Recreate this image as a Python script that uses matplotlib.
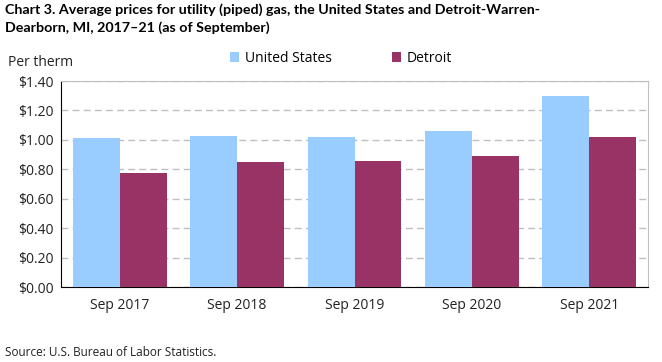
import matplotlib.pyplot as plt
import numpy as np
from matplotlib.ticker import FuncFormatter

plt.rcParams['font.family'] = ['Open Sans', 'DejaVu Sans']

# data
periods = ['Sep 2017', 'Sep 2018', 'Sep 2019', 'Sep 2020', 'Sep 2021']
us_prices = [1.011, 1.027, 1.020, 1.061, 1.299]
detroit_prices = [0.773, 0.850, 0.857, 0.891, 1.020]

US_COLOR = '#99ccff'
DET_COLOR = '#993366'

fig = plt.figure(figsize=(6.62, 3.62), dpi=100)
ax = fig.add_axes([61 / 662, 1 - 287 / 362, 587 / 662, 206 / 362])

x = np.arange(len(periods))
w = 0.4
ax.bar(x - w / 2, us_prices, w, color=US_COLOR, label='United States', zorder=3)
ax.bar(x + w / 2, detroit_prices, w, color=DET_COLOR, label='Detroit', zorder=3)

ax.set_xlim(-0.5, len(periods) - 0.5)
ax.set_ylim(0, 1.4)
ax.set_yticks(np.arange(0, 1.41, 0.2))
ax.yaxis.set_major_formatter(FuncFormatter(lambda v, p: f'${v:.2f}'))
ax.set_xticks(x, periods)
ax.tick_params(axis='both', labelsize=10, colors='#222222', length=0)
ax.tick_params(axis='x', pad=8)
ax.tick_params(axis='y', pad=5)
ax.yaxis.grid(True, color='#bfbfbf', linestyle=(0, (5, 3)), linewidth=1, zorder=0)

for s in ['top', 'right']:
    ax.spines[s].set_color('#bfbfbf')
for s in ['left', 'bottom']:
    ax.spines[s].set_color('black')

fig.text(5 / 662, 1 - 3 / 362,
         'Chart 3. Average prices for utility (piped) gas, the United States and Detroit-Warren-\n'
         'Dearborn, MI, 2017\u201321 (as of September)',
         fontsize=10.3, fontweight='bold', va='top', ha='left', linespacing=1.5,
         family=['Lato', 'DejaVu Sans'])
fig.text(8 / 662, 1 - 62 / 362, 'Per therm', fontsize=10, va='center', ha='left', color='#222222')
fig.text(5 / 662, 1 - 352 / 362, 'Source: U.S. Bureau of Labor Statistics.', fontsize=8.5,
         va='center', ha='left', color='#222222')

ax.legend(loc='center', bbox_to_anchor=(0.477, 1 + 23 / 206), ncol=2, frameon=False,
          fontsize=10, handlelength=0.7, handleheight=0.7, columnspacing=4.3, handletextpad=0.4)

fig.savefig('out.png', dpi=100)
